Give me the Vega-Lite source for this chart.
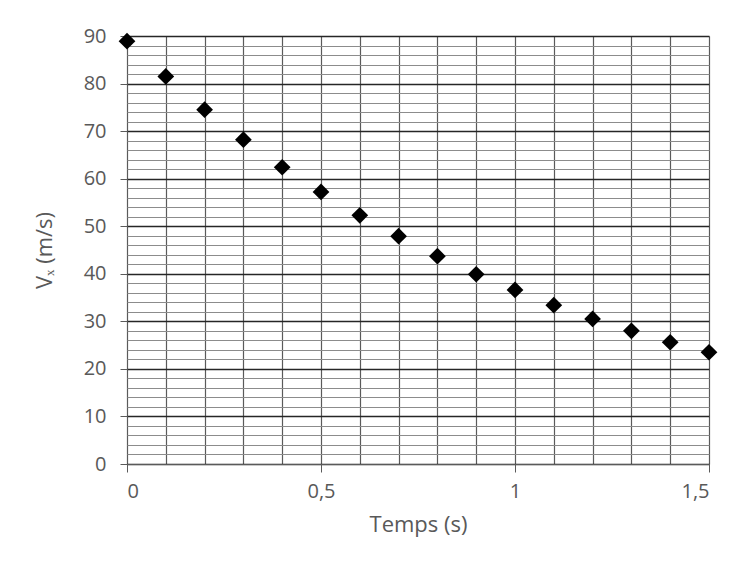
{
  "$schema": "https://vega.github.io/schema/vega-lite/v6.json",
  "autosize": {"type": "none"},
  "padding": {"left": 127, "top": 36, "right": 33, "bottom": 116},
  "width": 582,
  "height": 428,
  "background": "white",
  "config": {
    "view": {"stroke": null},
    "font": "Open Sans",
    "axis": {"labelFont": "Open Sans", "titleFont": "Open Sans", "labelColor": "#595959", "titleColor": "#595959", "titleFontWeight": "normal"}
  },
  "data": {
    "values": [
      {"t": 0.0, "v": 88.9},
      {"t": 0.1, "v": 81.5},
      {"t": 0.2, "v": 74.5},
      {"t": 0.3, "v": 68.2},
      {"t": 0.4, "v": 62.4},
      {"t": 0.5, "v": 57.2},
      {"t": 0.6, "v": 52.3},
      {"t": 0.7, "v": 47.9},
      {"t": 0.8, "v": 43.7},
      {"t": 0.9, "v": 39.9},
      {"t": 1.0, "v": 36.6},
      {"t": 1.1, "v": 33.4},
      {"t": 1.2, "v": 30.5},
      {"t": 1.3, "v": 28.0},
      {"t": 1.4, "v": 25.6},
      {"t": 1.5, "v": 23.5}
    ]
  },
  "layer": [
    {
      "mark": {"type": "point", "opacity": 0},
      "encoding": {
        "x": {"field": "t", "type": "quantitative", "scale": {"domain": [0, 1.5], "nice": false, "zero": false},
          "axis": {"orient": "bottom", "values": [0,0.1,0.2,0.3,0.4,0.5,0.6,0.7,0.8,0.9,1.0,1.1,1.2,1.3,1.4,1.5], "grid": true, "gridColor": "#5a5a5a", "gridOpacity": 1, "gridWidth": 1.2, "labels": false, "ticks": false, "domain": false, "title": null}},
        "y": {"field": "v", "type": "quantitative", "scale": {"domain": [0, 90], "nice": false},
          "axis": {"orient": "left", "values": [0,2,4,6,8,10,12,14,16,18,20,22,24,26,28,30,32,34,36,38,40,42,44,46,48,50,52,54,56,58,60,62,64,66,68,70,72,74,76,78,80,82,84,86,88,90], "grid": true, "gridColor": "#8c8c8c", "gridOpacity": 1, "gridWidth": 1.2, "labels": false, "ticks": false, "domain": false, "title": null}}
      }
    },
    {
      "mark": {"type": "point", "shape": "diamond", "filled": true, "color": "black", "opacity": 1, "size": 280},
      "encoding": {
        "x": {"field": "t", "type": "quantitative", "scale": {"domain": [0, 1.5], "nice": false, "zero": false},
          "axis": {"orient": "bottom", "values": [0, 0.5, 1, 1.5], "grid": false, "ticks": true, "tickSize": 8, "tickColor": "#5a5a5a", "domain": true, "domainColor": "#5a5a5a", "labelFontSize": 20, "labelPadding": 9, "labelExpr": "replace(toString(datum.value), '.', ',')", "title": "Temps (s)", "titleFontSize": 22, "titlePadding": 13}},
        "y": {"field": "v", "type": "quantitative", "scale": {"domain": [0, 90], "nice": false},
          "axis": {"orient": "left", "values": [0,10,20,30,40,50,60,70,80,90], "grid": true, "gridColor": "#262626", "gridOpacity": 1, "gridWidth": 1.6, "ticks": true, "tickSize": 7, "tickColor": "#5a5a5a", "domain": false, "labelFontSize": 20, "labelPadding": 14, "title": "Vₓ (m/s)", "titleFontSize": 22, "titlePadding": 27}}
      }
    }
  ],
  "resolve": {"axis": {"x": "independent", "y": "independent"}}
}
